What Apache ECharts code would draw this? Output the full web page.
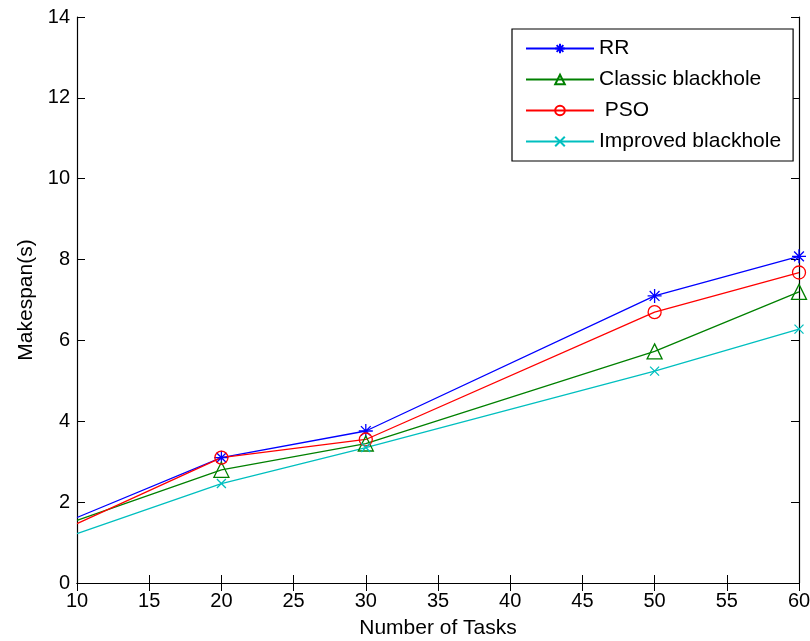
<!DOCTYPE html>
<html>
<head>
<meta charset="utf-8">
<script src="https://cdn.jsdelivr.net/npm/echarts@6/dist/echarts.min.js"></script>
<style>html,body{margin:0;padding:0;background:#fff;}#c{width:810px;height:641px;}</style>
</head>
<body>
<div id="c"></div>
<script>
var tasks = [10, 20, 30, 50, 60];
var rr = [1.62, 3.10, 3.76, 7.10, 8.08];
var classicBH = [1.55, 2.80, 3.45, 5.73, 7.20];
var pso = [1.47, 3.10, 3.55, 6.70, 7.68];
var improvedBH = [1.22, 2.46, 3.35, 5.24, 6.28];
var xTicks = [10, 15, 20, 25, 30, 35, 40, 45, 50, 55, 60];
var yTicks = [0, 2, 4, 6, 8, 10, 12, 14];

function pairs(v) {
  return tasks.map(function (t, i) {
    var item = { value: [t, v[i]] };
    if (i === 0) item.symbol = 'none';
    return item;
  });
}

var starPath = 'path://M0,-10L0,10M-10,0L10,0M-7,-7L7,7M-7,7L7,-7';
var xPath = 'path://M-7,-7L7,7M-7,7L7,-7';
var FONT = 'Liberation Sans, Arial, sans-serif';

function mkSeries(name, data, color, symbol, size) {
  return {
    name: name, type: 'line', data: pairs(data),
    symbol: symbol, symbolSize: size,
    lineStyle: { color: color, width: 1.3 },
    itemStyle: { color: 'none', borderColor: color, borderWidth: 1.3 },
    emphasis: { disabled: true },
    animation: false
  };
}

var chart = echarts.init(document.getElementById('c'));
chart.setOption({
  backgroundColor: '#fff',
  animation: false,
  grid: { left: 77, right: 11, top: 17, bottom: 58, outerBoundsMode: 'none', containLabel: false },
  xAxis: [{
    type: 'value', min: xTicks[0], max: xTicks[xTicks.length - 1], interval: 5,
    name: 'Number of Tasks', nameLocation: 'middle', nameGap: 35,
    nameTextStyle: { fontFamily: FONT, fontSize: 21, color: '#000' },
    axisLine: { lineStyle: { color: '#000', width: 1.2 } },
    axisTick: { inside: true, length: 8, lineStyle: { color: '#000' } },
    axisLabel: { fontFamily: FONT, fontSize: 20, color: '#000', margin: 8 },
    splitLine: { show: false }
  }, {
    type: 'value', position: 'top', min: xTicks[0], max: xTicks[xTicks.length - 1], interval: 5,
    axisLine: { lineStyle: { color: '#000', width: 1.2 } },
    axisTick: { inside: true, length: 8, lineStyle: { color: '#000' } },
    axisLabel: { show: false }, splitLine: { show: false }
  }],
  yAxis: [{
    type: 'value', min: yTicks[0], max: yTicks[yTicks.length - 1], interval: 2,
    name: 'Makespan(s)', nameLocation: 'middle', nameGap: 40, nameRotate: 90,
    nameTextStyle: { fontFamily: FONT, fontSize: 21, color: '#000' },
    axisLine: { show: true, lineStyle: { color: '#000', width: 1.2 } },
    axisTick: { show: true, inside: true, length: 8, lineStyle: { color: '#000' } },
    axisLabel: { fontFamily: FONT, fontSize: 20, color: '#000', margin: 7 },
    splitLine: { show: false }
  }, {
    type: 'value', position: 'right', min: yTicks[0], max: yTicks[yTicks.length - 1], interval: 2,
    axisLine: { show: true, lineStyle: { color: '#000', width: 1.2 } },
    axisTick: { show: true, inside: true, length: 8, lineStyle: { color: '#000' } },
    axisLabel: { show: false }, splitLine: { show: false }
  }],
  legend: {
    orient: 'vertical', left: 512, top: 29,
    padding: [9, 12, 9, 13],
    itemWidth: 68, itemHeight: 12, itemGap: 10,
    backgroundColor: '#fff', borderColor: '#000', borderWidth: 1.2, borderRadius: 0,
    textStyle: { fontFamily: FONT, fontSize: 21, color: '#000' },
    data: ['RR', 'Classic blackhole', ' PSO', 'Improved blackhole']
  },
  series: [
    mkSeries('RR', rr, '#0000ff', starPath, 14),
    mkSeries('Classic blackhole', classicBH, '#008000', 'triangle', 15),
    mkSeries(' PSO', pso, '#ff0000', 'circle', 13),
    mkSeries('Improved blackhole', improvedBH, '#00bfbf', xPath, 9)
  ]
});
</script>
</body>
</html>
